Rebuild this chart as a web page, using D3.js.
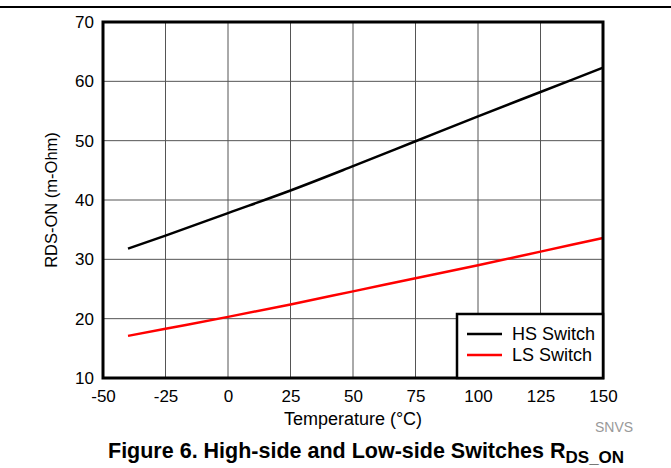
<!DOCTYPE html>
<html lang="en">
<head>
<meta charset="UTF-8">
<title>RDS-ON vs Temperature</title>
<script src="https://d3js.org/d3.v7.min.js"></script>
<style>
  body { margin: 0; background: #fff; font-family: "Liberation Sans", Arial, sans-serif; }
  svg text { font-family: "Liberation Sans", Arial, sans-serif; }
</style>
</head>
<body>
<svg id="chart" width="671" height="468"></svg>
<script>
// data
const temps = [-40, -25, 0, 25, 50, 75, 100, 125, 150];
const hsSwitch = [31.8, 34.0, 37.8, 41.6, 45.7, 49.9, 54.1, 58.2, 62.3];
const lsSwitch = [17.1, 18.3, 20.3, 22.4, 24.6, 26.8, 29.0, 31.3, 33.6];
const xTicks = [-50, -25, 0, 25, 50, 75, 100, 125, 150];
const yTicks = [10, 20, 30, 40, 50, 60, 70];
const seriesNames = ["HS Switch", "LS Switch"];
const seriesColors = ["#000000", "#ff0000"];

const svg = d3.select("#chart");
const margin = { left: 103, top: 22, right: 68, bottom: 90 };
const W = 671, H = 468;
const x = d3.scaleLinear().domain([-50, 150]).range([margin.left, W - margin.right]);
const y = d3.scaleLinear().domain([10, 70]).range([H - margin.bottom, margin.top]);

// top rule of the page
svg.append("line")
    .attr("x1", 0).attr("x2", W).attr("y1", 7).attr("y2", 7)
    .attr("stroke", "#000").attr("stroke-width", 2);

// grid
svg.append("g").selectAll("line").data(xTicks).join("line")
    .attr("x1", d => x(d)).attr("x2", d => x(d))
    .attr("y1", y(10)).attr("y2", y(70))
    .attr("stroke", "#555").attr("stroke-width", 1);
svg.append("g").selectAll("line").data(yTicks).join("line")
    .attr("x1", x(-50)).attr("x2", x(150))
    .attr("y1", d => y(d)).attr("y2", d => y(d))
    .attr("stroke", "#555").attr("stroke-width", 1);

// axes labels via d3 axes, no tick lines
const xAxis = svg.append("g")
    .attr("transform", `translate(0,${y(10)})`)
    .call(d3.axisBottom(x).tickValues(xTicks).tickFormat(d => String(d)).tickSize(0).tickPadding(12));
const yAxis = svg.append("g")
    .attr("transform", `translate(${x(-50)},0)`)
    .call(d3.axisLeft(y).tickValues(yTicks).tickFormat(d => String(d)).tickSize(0).tickPadding(9));
[xAxis, yAxis].forEach(a => {
    a.select(".domain").remove();
    a.attr("font-size", null);
    a.selectAll("text").attr("font-size", 17).attr("fill", "#000")
        .style("font-family", "'Liberation Sans', Arial, sans-serif");
});

// series
const line = d3.line().x(d => x(d[0])).y(d => y(d[1])).curve(d3.curveMonotoneX);
[hsSwitch, lsSwitch].forEach((vals, i) => {
    svg.append("path")
        .datum(temps.map((t, j) => [t, vals[j]]))
        .attr("d", line)
        .attr("fill", "none")
        .attr("stroke", seriesColors[i])
        .attr("stroke-width", 2.5);
});

// frame
svg.append("rect")
    .attr("x", x(-50)).attr("y", y(70))
    .attr("width", x(150) - x(-50)).attr("height", y(10) - y(70))
    .attr("fill", "none").attr("stroke", "#000").attr("stroke-width", 3);

// legend
const lg = svg.append("g");
lg.append("rect")
    .attr("x", 457).attr("y", 314).attr("width", x(150) - 457).attr("height", y(10) - 314)
    .attr("fill", "#fff").attr("stroke", "#000").attr("stroke-width", 2.5);
seriesNames.forEach((name, i) => {
    const ly = 334 + i * 21;
    lg.append("line").attr("x1", 467).attr("x2", 502).attr("y1", ly).attr("y2", ly)
        .attr("stroke", seriesColors[i]).attr("stroke-width", 2.5);
    lg.append("text").attr("x", 512).attr("y", ly + 6)
        .attr("font-size", 18).text(name);
});

// axis titles
svg.append("text")
    .attr("x", x(50)).attr("y", 425)
    .attr("text-anchor", "middle").attr("font-size", 18)
    .text("Temperature (°C)");
svg.append("text")
    .attr("transform", `translate(57,${(y(10) + y(70)) / 2}) rotate(-90)`)
    .attr("text-anchor", "middle").attr("font-size", 16.5)
    .text("RDS-ON (m-Ohm)");

svg.append("text")
    .attr("x", 595).attr("y", 432)
    .attr("font-size", 14).attr("fill", "#999")
    .text("SNVS");

// caption
const cap = svg.append("text")
    .attr("x", 108).attr("y", 458)
    .attr("font-size", 21.5).attr("font-weight", "bold");
cap.append("tspan").text("Figure 6. High-side and Low-side Switches R");
cap.append("tspan").attr("font-size", 17).attr("dy", 5).text("DS_ON");
</script>
</body>
</html>
